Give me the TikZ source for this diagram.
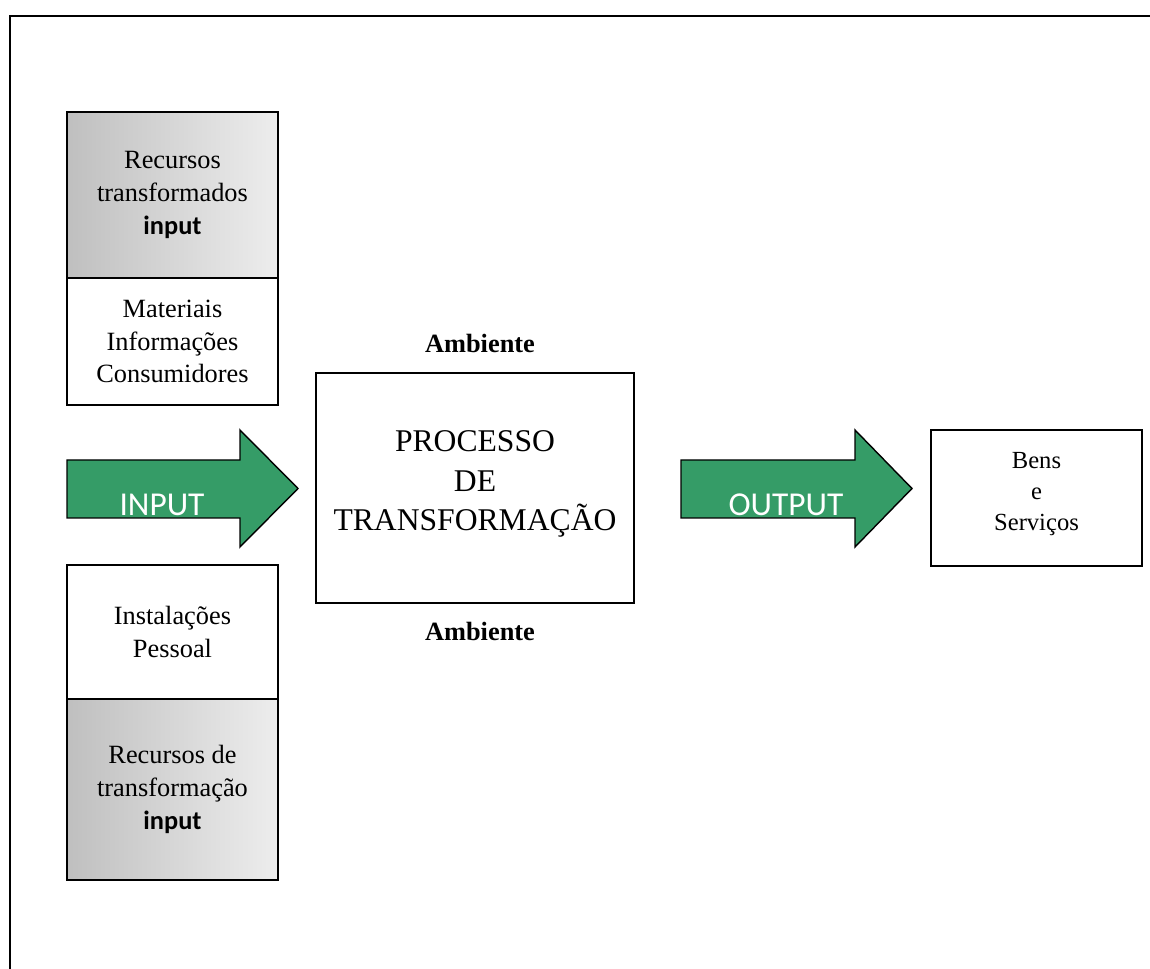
\documentclass[tikz,border=0pt]{standalone}
\usepackage{fontspec}
\setmainfont{Liberation Serif}
\newfontfamily\calibri{Carlito}
\definecolor{arrowgreen}{RGB}{53,156,103}
\begin{document}
\begin{tikzpicture}[x=0.02cm,y=-0.02cm,
  box/.style={draw=black,line width=1pt,inner sep=0pt,minimum width=4.22cm},
  shadebox/.style={box,left color=black!25,right color=black!7},
  lbl/.style={align=center,font=\fontsize{15}{18.7}\selectfont},
  blockarrow/.style={fill=arrowgreen,draw=black,line width=0.8pt,line join=miter},
  arrowtext/.style={text=white,inner sep=0pt,font=\calibri\fontsize{19}{22}\selectfont},
  envlabel/.style={font=\bfseries\fontsize{15}{18}\selectfont}]

\useasboundingbox (0,0) rectangle (1150,969);

% outer frame
\draw[line width=1.2pt] (10,975) -- (10,16) -- (1160,16);

% transformed resources (top column)
\node[shadebox,lbl,minimum height=3.32cm] (rt) at (172.5,195)
  {Recursos\\transformados\\{\calibri\bfseries input}};
\node[box,lbl,minimum height=2.54cm] (mat) at (172.5,341.5)
  {Materiais\\Informações\\Consumidores};

% transforming resources (bottom column)
\node[box,lbl,minimum height=2.68cm] (inst) at (172.5,632)
  {Instalações\\Pessoal};
\node[shadebox,lbl,minimum height=3.62cm] (rdt) at (172.5,789.5)
  {Recursos de\\transformação\\{\calibri\bfseries input}};

% transformation process
\node[box,minimum width=6.36cm,minimum height=4.6cm] (proc) at (475,488) {};
\node[lbl,font=\fontsize{18}{22.6}\selectfont] (proctext) at (475,484)
  {PROCESSO\\DE\\TRANSFORMAÇÃO};
\node[envlabel] (envtop) at (480,343) {Ambiente};
\node[envlabel] (envbot) at (480,631) {Ambiente};

% goods and services
\node[box,minimum height=2.72cm] (bens) at (1036.5,498) {};
\node[lbl,font=\fontsize{14}{17.6}\selectfont] (benstext) at (1036.5,494)
  {Bens\\e\\Serviços};

% input / output block arrows
\draw[blockarrow] (67,460) -- (240,460) -- (240,430) -- (298,488.5)
  -- (240,547) -- (240,518) -- (67,518) -- cycle;
\node[arrowtext] (intext) at (162,505) {INPUT};

\draw[blockarrow] (681,460) -- (855,460) -- (855,430) -- (912,488.5)
  -- (855,547) -- (855,518) -- (681,518) -- cycle;
\node[arrowtext] (outtext) at (786,505) {OUTPUT};

\end{tikzpicture}
\end{document}
